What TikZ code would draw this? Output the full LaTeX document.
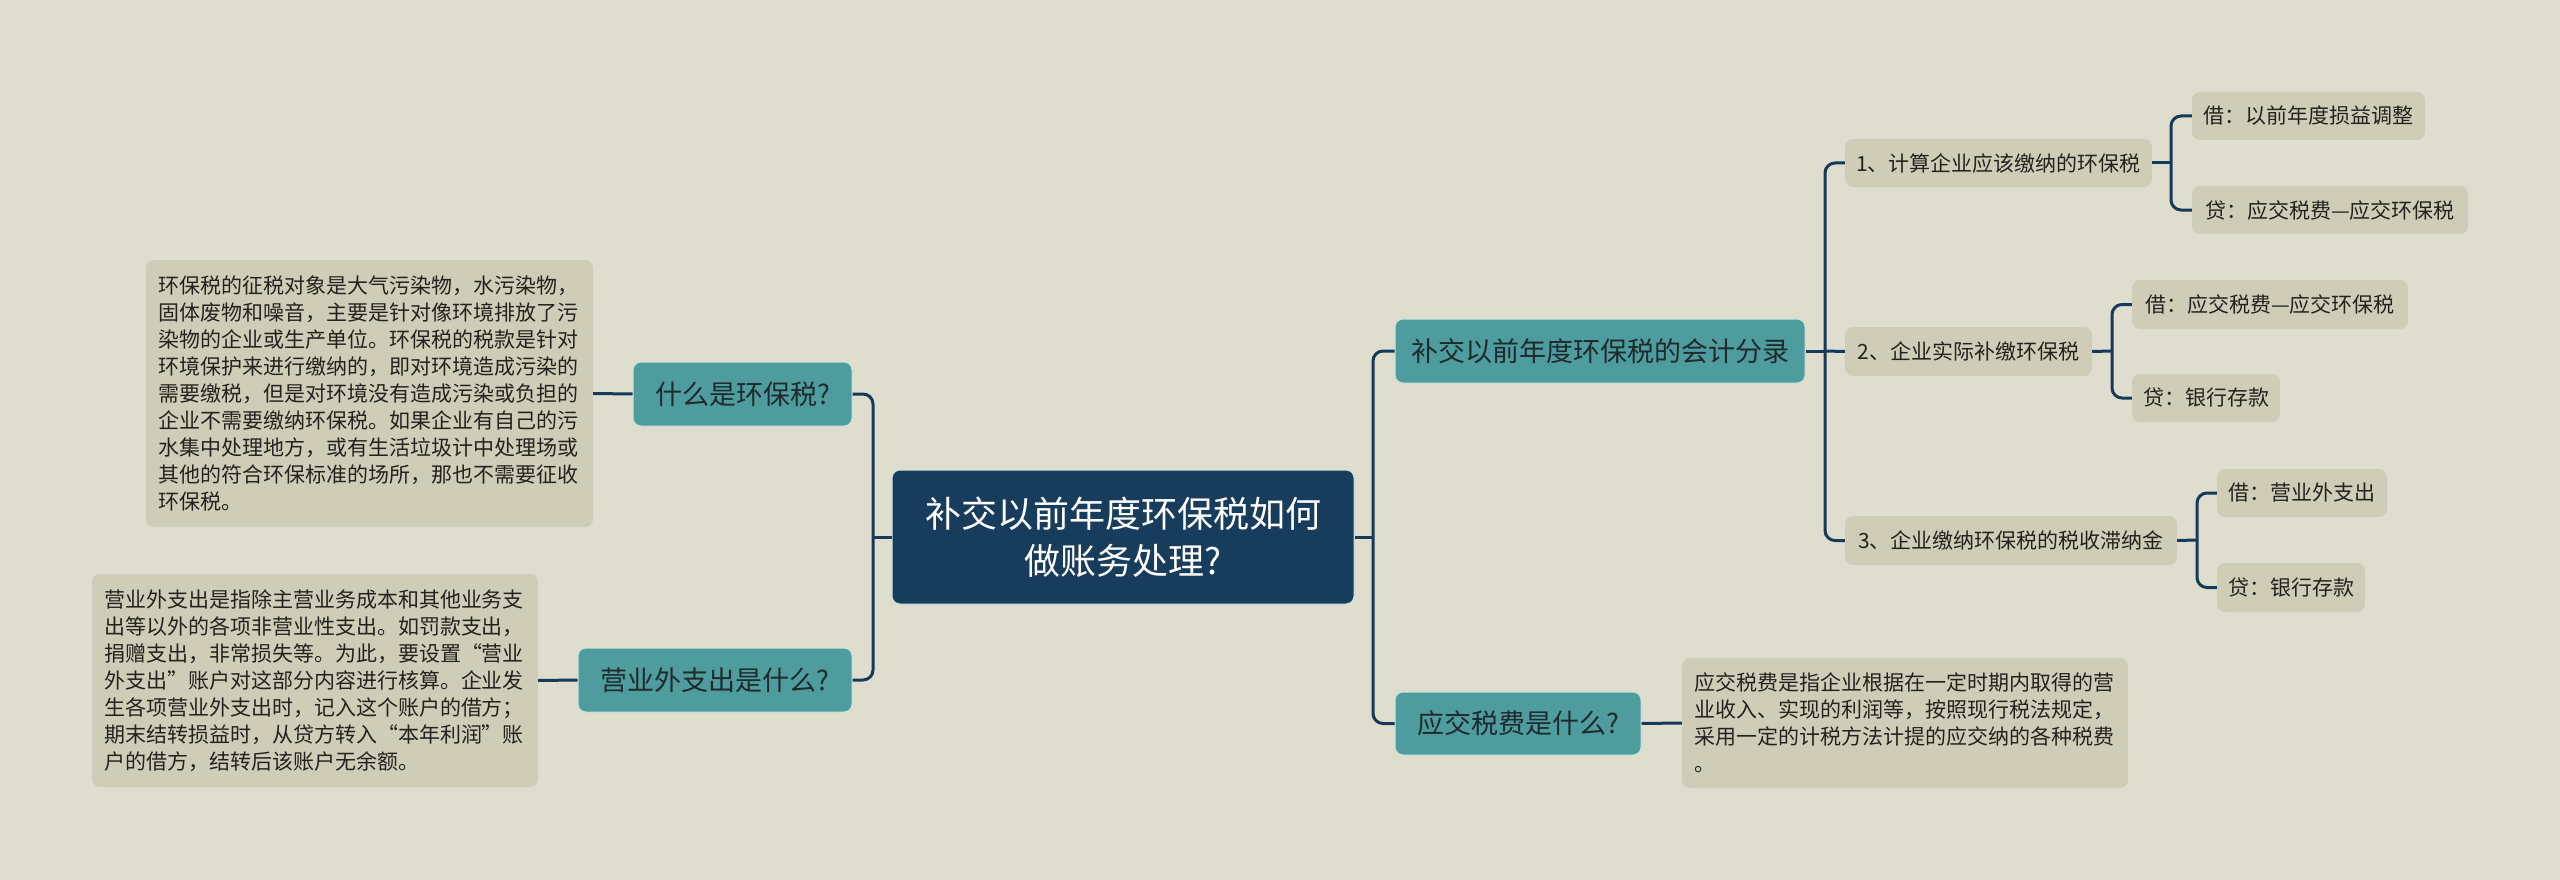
\documentclass[tikz,border=0pt]{standalone}
\usepackage{fontspec}
\setmainfont{Noto Sans CJK SC}
\definecolor{bgc}{RGB}{222,221,206}
\definecolor{rootc}{RGB}{24,60,92}
\definecolor{tealc}{RGB}{78,156,157}
\definecolor{lightc}{RGB}{207,205,183}
\definecolor{linec}{RGB}{23,58,90}
\definecolor{ttext}{RGB}{30,42,46}
\definecolor{ltext}{RGB}{35,35,30}
\definecolor{tborder}{RGB}{200,228,222}
\tikzset{
  x=1pt,y=1pt,
  rootbox/.style={fill=rootc,draw=tborder,line width=1pt,rounded corners=8pt,text=white,align=center,
    font=\fontsize{36}{47}\selectfont,inner sep=0pt},
  tealbox/.style={fill=tealc,draw=tborder,line width=1pt,rounded corners=8pt,text=ttext,align=center,
    font=\fontsize{27}{34}\selectfont,inner sep=0pt},
  smallbox/.style={fill=lightc,rounded corners=8pt,text=ltext,align=center,
    font=\fontsize{21}{27}\selectfont,inner sep=0pt},
  descbox/.style={fill=lightc,rounded corners=8pt,text=ltext,align=left,
    font=\fontsize{21}{27}\selectfont,inner xsep=12pt,inner ysep=0pt},
  conn/.style={draw=linec,line width=3pt,rounded corners=10pt},
}
\begin{document}
\begin{tikzpicture}
\useasboundingbox (0,0) rectangle (2560,-880);
\fill[bgc] (0,0) rectangle (2560,-880);

\node[rootbox,minimum width=462,minimum height=134] (root) at (1123,-537) {补交以前年度环保税如何\\做账务处理?};

\node[tealbox,minimum width=219,minimum height=64] (q1) at (742.5,-394) {什么是环保税?};
\node[tealbox,minimum width=274,minimum height=64] (q2) at (715,-680) {营业外支出是什么?};
\node[tealbox,minimum width=410,minimum height=64] (b1) at (1600,-351) {补交以前年度环保税的会计分录};
\node[tealbox,minimum width=246,minimum height=63] (b2) at (1518,-723.5) {应交税费是什么?};

\node[descbox,text width=423,minimum height=267] (d1) at (369.5,-393.5) {环保税的征税对象是大气污染物，水污染物，\\固体废物和噪音，主要是针对像环境排放了污\\染物的企业或生产单位。环保税的税款是针对\\环境保护来进行缴纳的，即对环境造成污染的\\需要缴税，但是对环境没有造成污染或负担的\\企业不需要缴纳环保税。如果企业有自己的污\\水集中处理地方，或有生活垃圾计中处理场或\\其他的符合环保标准的场所，那也不需要征收\\环保税。};
\node[descbox,text width=422,minimum height=213] (d2) at (315,-680.5) {营业外支出是指除主营业务成本和其他业务支\\出等以外的各项非营业性支出。如罚款支出，\\捐赠支出，非常损失等。为此，要设置“营业\\外支出”账户对这部分内容进行核算。企业发\\生各项营业外支出时，记入这个账户的借方；\\期末结转损益时，从贷方转入“本年利润”账\\户的借方，结转后该账户无余额。};
\node[descbox,text width=422,minimum height=130] (d3) at (1905,-723) {应交税费是指企业根据在一定时期内取得的营\\业收入、实现的利润等，按照现行税法规定，\\采用一定的计税方法计提的应交纳的各种税费\\。};

\node[smallbox,minimum width=307,minimum height=48] (s1) at (1998.5,-163) {1、计算企业应该缴纳的环保税};
\node[smallbox,minimum width=247,minimum height=49] (s2) at (1968.5,-351.5) {2、企业实际补缴环保税};
\node[smallbox,minimum width=332,minimum height=49] (s3) at (2011,-540.5) {3、企业缴纳环保税的税收滞纳金};

\node[smallbox,minimum width=233,minimum height=48] (l1a) at (2308.5,-116) {借：以前年度损益调整};
\node[smallbox,minimum width=276,minimum height=48] (l1b) at (2330,-210) {贷：应交税费—应交环保税};
\node[smallbox,minimum width=276,minimum height=49] (l2a) at (2270,-304.5) {借：应交税费—应交环保税};
\node[smallbox,minimum width=148,minimum height=48] (l2b) at (2206,-398) {贷：银行存款};
\node[smallbox,minimum width=170,minimum height=48] (l3a) at (2302,-493) {借：营业外支出};
\node[smallbox,minimum width=148,minimum height=49] (l3b) at (2291,-587.5) {贷：银行存款};

% trunk coordinates
\coordinate (lt) at (873,-537);
\coordinate (rt) at (1373,-537);
\coordinate (st) at (1825,-351);
\coordinate (c1) at (2171,-163);
\coordinate (c2) at (2112,-351);
\coordinate (c3) at (2197,-540);

% left side
\draw[conn] (root.west) -- (lt);
\draw[conn] (lt) |- (q1.east);
\draw[conn] (lt) |- (q2.east);
\draw[conn] (d1.east) -- (q1.west);
\draw[conn] (d2.east) -- (q2.west);

% right side
\draw[conn] (root.east) -- (rt);
\draw[conn] (rt) |- (b1.west);
\draw[conn] (rt) |- (b2.west);
\draw[conn] (b2.east) -- (d3.west);

\draw[conn] (b1.east) -- (st);
\draw[conn] (st) |- (s1.west);
\draw[conn] (st) -- (s2.west);
\draw[conn] (st) |- (s3.west);

\draw[conn] (s1.east) -- (c1);
\draw[conn] (c1) |- (l1a.west);
\draw[conn] (c1) |- (l1b.west);
\draw[conn] (s2.east) -- (c2);
\draw[conn] (c2) |- (l2a.west);
\draw[conn] (c2) |- (l2b.west);
\draw[conn] (s3.east) -- (c3);
\draw[conn] (c3) |- (l3a.west);
\draw[conn] (c3) |- (l3b.west);
\end{tikzpicture}
\end{document}
